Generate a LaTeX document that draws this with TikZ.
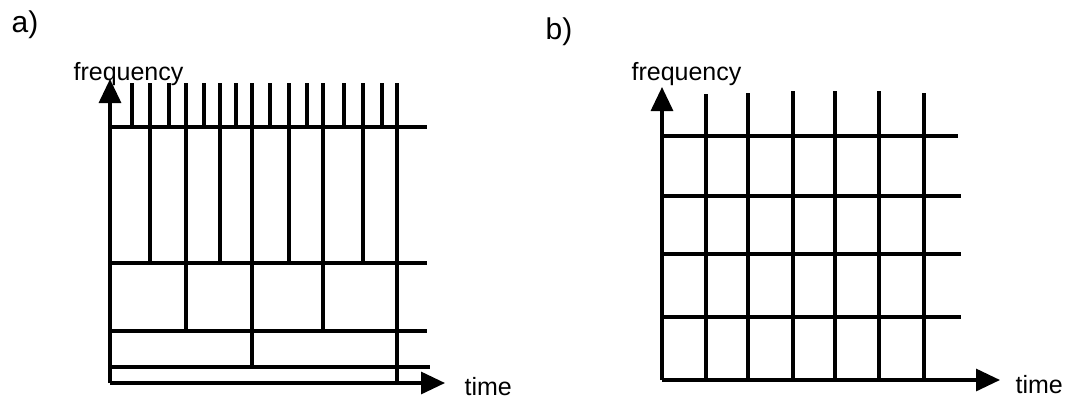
\documentclass[tikz,border=0pt]{standalone}
\usepackage{fontspec}
\setmainfont{Liberation Sans}
\usetikzlibrary{arrows.meta}

\begin{document}
\begin{tikzpicture}[
  x=0.5pt, y=-0.5pt, line width=1.6pt,  axis/.style={-{Triangle[length=12pt,width=11pt]}},  lbl/.style={inner sep=0pt,anchor=base west,font=\fontsize{12.5}{15}\selectfont},  plbl/.style={lbl,font=\fontsize{15}{18}\selectfont}
]
  \useasboundingbox (0,0) rectangle (1069,402);
  % panel a
  \node[plbl] (pa) at (10,32) {a)};
  \coordinate (oa) at (110,383);
  \coordinate (fa) at (110,79);
  \coordinate (ta) at (445,383);
  \draw[axis] (oa) -- (fa);
  \draw[axis] (oa) -- (ta);
  \node[lbl] (lfa) at (72,80) {frequency};
  \node[lbl] (lta) at (463,395) {time};
  \draw (110,127) -- (427,127);
  \draw (110,263) -- (427,263);
  \draw (110,331) -- (427,331);
  \draw (110,367) -- (430,367);
  \draw (132,83) -- (132,127);
  \draw (150,83) -- (150,263);
  \draw (169,83) -- (169,127);
  \draw (186,83) -- (186,331);
  \draw (204,83) -- (204,127);
  \draw (220,83) -- (220,263);
  \draw (236,83) -- (236,127);
  \draw (252,83) -- (252,367);
  \draw (270,83) -- (270,127);
  \draw (289,83) -- (289,263);
  \draw (307,83) -- (307,127);
  \draw (323,83) -- (323,331);
  \draw (344,83) -- (344,127);
  \draw (363,83) -- (363,263);
  \draw (382,83) -- (382,127);
  \draw (397,83) -- (397,383);
  % panel b
  \node[plbl] (pb) at (544,39) {b)};
  \coordinate (ob) at (662,380);
  \coordinate (fb) at (662,87);
  \coordinate (tb) at (1000,380);
  \draw[axis] (ob) -- (fb);
  \draw[axis] (ob) -- (tb);
  \node[lbl] (lfb) at (630,80) {frequency};
  \node[lbl] (ltb) at (1014,393) {time};
  \draw (662,136) -- (958,136);
  \draw (662,196) -- (961,196);
  \draw (662,254) -- (961,254);
  \draw (662,317) -- (961,317);
  \draw (706,94) -- (706,380);
  \draw (748,93) -- (748,380);
  \draw (793,91) -- (793,380);
  \draw (835,91) -- (835,380);
  \draw (879,91) -- (879,380);
  \draw (924,93) -- (924,380);
\end{tikzpicture}
\end{document}
